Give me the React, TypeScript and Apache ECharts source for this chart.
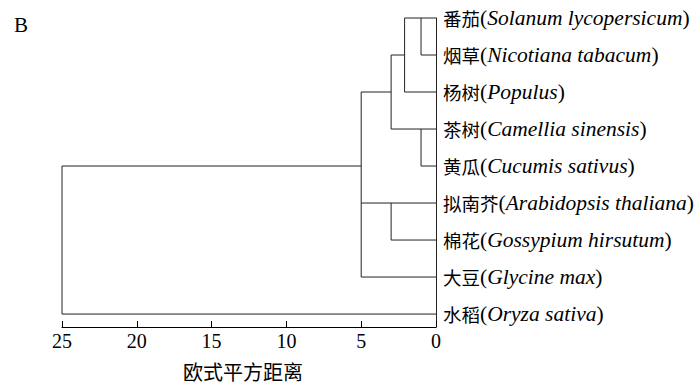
import React, { useEffect, useRef } from "react";
import * as echarts from "echarts";

// Leaves (top to bottom): Chinese name and Latin name
const leafCn = ["番茄", "烟草", "杨树", "茶树", "黄瓜", "拟南芥", "棉花", "大豆", "水稻"];
const leafLatin = [
  "Solanum lycopersicum",
  "Nicotiana tabacum",
  "Populus",
  "Camellia sinensis",
  "Cucumis sativus",
  "Arabidopsis thaliana",
  "Gossypium hirsutum",
  "Glycine max",
  "Oryza sativa",
];
// Length (distance) of each leaf's horizontal line
const leafReach = [2.1, 1, 2.1, 3, 1, 5, 3, 5, 25];
// Merge verticals: distance, from row, to row
const mergeDist = [1, 2.1, 1, 3, 3, 5, 25];
const mergeFrom = [0, 0, 3, 1, 5, 2, 4];
const mergeTo = [1, 2, 4, 3, 6, 7, 8];
// Connector horizontals: row, from distance, to distance
const linkRow = [1, 2, 4];
const linkFrom = [2.1, 3, 5];
const linkTo = [3, 5, 25];

const xTicks = [0, 5, 10, 15, 20, 25];

const serif = "'Liberation Serif', 'Times New Roman', 'Noto Sans CJK SC', serif";
const cjk = "'Noto Sans CJK SC', 'Liberation Serif', serif";

export default function App() {
  const ref = useRef<HTMLDivElement>(null);
  useEffect(() => {
    if (!ref.current) return;
    const chart = echarts.init(ref.current, undefined, { renderer: "svg" });
    const segs: number[][] = [];
    leafReach.forEach((r, i) => segs.push([0, i, r, i]));
    mergeDist.forEach((d, i) => segs.push([d, mergeFrom[i], d, mergeTo[i]]));
    linkRow.forEach((r, i) => segs.push([linkFrom[i], r, linkTo[i], r]));

    chart.setOption({
      animation: false,
      backgroundColor: "#fff",
      title: {
        text: "B",
        left: 9,
        top: 9,
        textStyle: { fontFamily: serif, fontSize: 21, fontWeight: "normal", color: "#000" },
      },
      grid: { left: 62, right: 262, top: 18, bottom: 57, outerBoundsMode: "none" },
      xAxis: {
        type: "value",
        inverse: true,
        position: "bottom",
        min: xTicks[0],
        max: xTicks[xTicks.length - 1],
        interval: 5,
        name: "欧式平方距离",
        nameLocation: "middle",
        nameGap: 34,
        nameTextStyle: { fontFamily: cjk, fontSize: 20, color: "#000", padding: [0, 12, 0, 0] },
        axisLine: { show: true, onZero: false, lineStyle: { color: "#000", width: 1 } },
        axisTick: { show: true, inside: true, length: 6, lineStyle: { color: "#000" } },
        axisLabel: { fontFamily: serif, fontSize: 20, color: "#000", margin: 4 },
        splitLine: { show: false },
      },
      yAxis: {
        type: "value",
        inverse: true,
        position: "right",
        min: 0,
        max: 8.35,
        interval: 1,
        axisLine: { show: true, onZero: false, lineStyle: { color: "#222", width: 1 } },
        axisTick: { show: false },
        splitLine: { show: false },
        axisLabel: {
          margin: 7,
          showMaxLabel: false,
          formatter: (v: number) => {
            const i = Math.round(v);
            if (Math.abs(v - i) > 1e-6 || i < 0 || i >= leafCn.length) return "";
            return `{cn|${leafCn[i]}}{p|(}{it|${leafLatin[i]}}{p|)}`;
          },
          rich: {
            cn: { fontFamily: cjk, fontSize: 18.5, color: "#000" },
            p: { fontFamily: serif, fontSize: 21.5, color: "#000" },
            it: { fontFamily: serif, fontSize: 21.5, fontStyle: "italic", color: "#000" },
          },
        },
      },
      series: [
        {
          type: "custom",
          encode: { x: [0, 2], y: [1, 3] },
          data: segs,
          renderItem: (params: any, api: any) => {
            const p1 = api.coord([api.value(0), api.value(1)]);
            const p2 = api.coord([api.value(2), api.value(3)]);
            return {
              type: "line",
              shape: { x1: p1[0], y1: p1[1], x2: p2[0], y2: p2[1] },
              style: { stroke: "#222", lineWidth: 1 },
            };
          },
        },
      ],
    });
    return () => chart.dispose();
  }, []);
  return (
    <div
      ref={ref}
      style={{ position: "absolute", left: 0, top: 0, width: 698, height: 384 }}
    />
  );
}
